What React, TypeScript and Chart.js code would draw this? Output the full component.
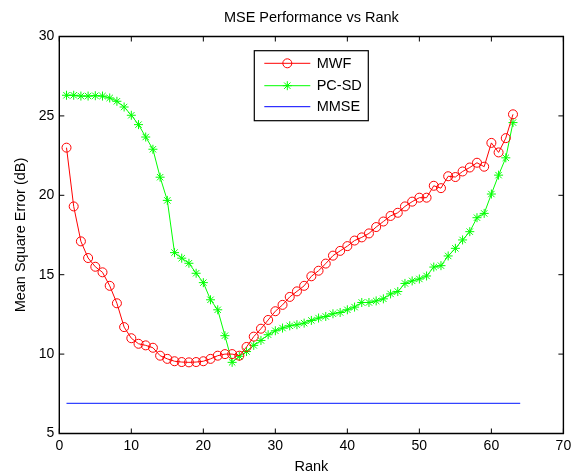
import { useEffect, useRef } from "react";
import { Chart, registerables } from "chart.js";
Chart.register(...registerables);

const FONT = "'Liberation Sans', Arial, Helvetica, sans-serif";

const title = "MSE Performance vs Rank";
const xTitle = "Rank";
const yTitle = "Mean Square Error (dB)";

const ranks = [
  1, 2, 3, 4, 5, 6, 7, 8, 9, 10, 11, 12, 13, 14, 15, 16, 17, 18, 19, 20, 21,
  22, 23, 24, 25, 26, 27, 28, 29, 30, 31, 32, 33, 34, 35, 36, 37, 38, 39, 40,
  41, 42, 43, 44, 45, 46, 47, 48, 49, 50, 51, 52, 53, 54, 55, 56, 57, 58, 59,
  60, 61, 62, 63,
];

const mwf = [
  23.0, 19.3, 17.1, 16.05, 15.5, 15.15, 14.3, 13.2, 11.7, 11.0, 10.65, 10.55,
  10.4, 9.9, 9.7, 9.55, 9.5, 9.48, 9.5, 9.55, 9.7, 9.9, 10.0, 10.0, 9.9, 10.45,
  11.1, 11.6, 12.15, 12.7, 13.1, 13.6, 13.95, 14.3, 14.9, 15.25, 15.7, 16.2,
  16.5, 16.8, 17.15, 17.35, 17.6, 18.0, 18.35, 18.7, 18.9, 19.3, 19.6, 19.85,
  19.85, 20.6, 20.45, 21.2, 21.15, 21.5, 21.75, 22.05, 21.8, 23.3, 22.7, 23.6,
  25.1,
];

const pcsd = [
  26.3, 26.3, 26.25, 26.25, 26.27, 26.25, 26.13, 25.92, 25.56, 25.04, 24.45,
  23.67, 22.9, 21.14, 19.68, 16.39, 16.04, 15.72, 15.09, 14.5, 13.42, 12.79,
  11.16, 9.48, 9.86, 10.16, 10.55, 10.86, 11.22, 11.47, 11.64, 11.78, 11.85,
  11.95, 12.12, 12.27, 12.37, 12.54, 12.62, 12.79, 12.96, 13.25, 13.25, 13.35,
  13.48, 13.79, 13.94, 14.45, 14.61, 14.73, 14.92, 15.48, 15.57, 16.18, 16.66,
  17.19, 17.71, 18.59, 18.86, 20.08, 21.27, 22.36, 24.58,
];

const mmseRanks = [1, 64];
const mmse = [6.9, 6.9];

const seriesNames = ["MWF", "PC-SD", "MMSE"];
const seriesColors = ["#ff0000", "#00ff00", "#0000ff"];

const xTicks = [0, 10, 20, 30, 40, 50, 60, 70];
const yTicks = [5, 10, 15, 20, 25, 30];

const framePlugin = {
  id: "frame",
  afterDatasetsDraw(chart: any) {
    const { ctx, chartArea } = chart;
    const { left, top, right, bottom } = chartArea;
    ctx.save();
    ctx.strokeStyle = "#000";
    ctx.lineWidth = 1.4;
    ctx.beginPath();
    ctx.rect(left, top, right - left, bottom - top);
    ctx.stroke();
    ctx.lineWidth = 1;
    ctx.beginPath();
    const tl = 5;
    xTicks.forEach((v) => {
      const px = chart.scales.x.getPixelForValue(v);
      ctx.moveTo(px, bottom);
      ctx.lineTo(px, bottom - tl);
      ctx.moveTo(px, top);
      ctx.lineTo(px, top + tl);
    });
    yTicks.forEach((v) => {
      const py = chart.scales.y.getPixelForValue(v);
      ctx.moveTo(left, py);
      ctx.lineTo(left + tl, py);
      ctx.moveTo(right, py);
      ctx.lineTo(right - tl, py);
    });
    ctx.stroke();
    ctx.restore();
  },
};

const legendPlugin = {
  id: "insideLegend",
  afterDraw(chart: any) {
    const { ctx, chartArea } = chart;
    const bx = chartArea.left + 195;
    const by = chartArea.top + 14.2;
    const bw = 114;
    const bh = 70;
    ctx.save();
    ctx.fillStyle = "#fff";
    ctx.fillRect(bx, by, bw, bh);
    ctx.strokeStyle = "#000";
    ctx.lineWidth = 1.2;
    ctx.strokeRect(bx, by, bw, bh);
    const rows = [12.6, 35, 56];
    ctx.font = `14.5px ${FONT}`;
    ctx.textBaseline = "middle";
    ctx.textAlign = "left";
    seriesNames.forEach((name, i) => {
      const y = by + rows[i];
      ctx.strokeStyle = seriesColors[i];
      ctx.lineWidth = 1;
      ctx.beginPath();
      ctx.moveTo(bx + 10, y);
      ctx.lineTo(bx + 56, y);
      ctx.stroke();
      const mx = bx + 33;
      if (i === 0) {
        ctx.beginPath();
        ctx.arc(mx, y, 4.5, 0, Math.PI * 2);
        ctx.stroke();
      } else if (i === 1) {
        const r = 4.5;
        const d = r * Math.SQRT1_2;
        ctx.beginPath();
        ctx.moveTo(mx - r, y);
        ctx.lineTo(mx + r, y);
        ctx.moveTo(mx, y - r);
        ctx.lineTo(mx, y + r);
        ctx.moveTo(mx - d, y - d);
        ctx.lineTo(mx + d, y + d);
        ctx.moveTo(mx - d, y + d);
        ctx.lineTo(mx + d, y - d);
        ctx.stroke();
      }
      ctx.fillStyle = "#000";
      ctx.fillText(name, bx + 62.4, y + 0.5);
    });
    ctx.restore();
  },
};

export default function App() {
  const ref = useRef<HTMLCanvasElement>(null);
  useEffect(() => {
    const chart = new Chart(ref.current as HTMLCanvasElement, {
      type: "line",
      data: {
        datasets: [
          {
            label: seriesNames[0],
            data: ranks.map((r, i) => ({ x: r, y: mwf[i] })),
            borderColor: seriesColors[0],
            borderWidth: 1,
            pointStyle: "circle",
            pointRadius: 4.5,
            pointBorderWidth: 1,
            pointBorderColor: seriesColors[0],
            pointBackgroundColor: "rgba(0,0,0,0)",
            backgroundColor: "rgba(0,0,0,0)",
            tension: 0,
          },
          {
            label: seriesNames[1],
            data: ranks.map((r, i) => ({ x: r, y: pcsd[i] })),
            borderColor: seriesColors[1],
            borderWidth: 1,
            pointStyle: "star",
            pointRadius: 4.5,
            pointBorderWidth: 1,
            pointBorderColor: seriesColors[1],
            pointBackgroundColor: seriesColors[1],
            backgroundColor: "rgba(0,0,0,0)",
            tension: 0,
          },
          {
            label: seriesNames[2],
            data: mmseRanks.map((r, i) => ({ x: r, y: mmse[i] })),
            borderColor: "#3344ff",
            borderWidth: 1.4,
            pointRadius: 0,
            backgroundColor: "rgba(0,0,0,0)",
            tension: 0,
          },
        ],
      },
      options: {
        responsive: false,
        animation: false,
        devicePixelRatio: 1,
        layout: { padding: { left: 0, right: 7.6, top: 0, bottom: 0 } },
        plugins: {
          legend: { display: false },
          tooltip: { enabled: false },
          title: {
            display: true,
            text: title,
            fullSize: false,
            color: "#000",
            font: { family: FONT, size: 14.5, weight: "normal" },
            padding: { top: 9.3, bottom: 9.8 },
          },
        },
        scales: {
          x: {
            type: "linear",
            min: 0,
            max: 70,
            afterBuildTicks: (s: any) => {
              s.ticks = xTicks.map((v) => ({ value: v }));
            },
            ticks: {
              color: "#000",
              font: { family: FONT, size: 14 },
              padding: 4,
              maxRotation: 0,
              autoSkip: false,
            },
            grid: { display: false, drawTicks: false },
            border: { display: false },
            title: {
              display: true,
              text: xTitle,
              color: "#000",
              font: { family: FONT, size: 14.5 },
              padding: { top: 0, bottom: 0 },
            },
            afterFit: (s: any) => {
              s.height = 42.5;
              s.paddingLeft = 0;
              s.paddingRight = 0;
            },
          },
          y: {
            type: "linear",
            min: 5,
            max: 30,
            afterBuildTicks: (s: any) => {
              s.ticks = yTicks.map((v) => ({ value: v }));
            },
            ticks: {
              color: "#000",
              font: { family: FONT, size: 14 },
              padding: 5,
            },
            grid: { display: false, drawTicks: false },
            border: { display: false },
            title: {
              display: true,
              text: yTitle,
              color: "#000",
              font: { family: FONT, size: 14.5 },
              padding: { top: 11.8, bottom: 0 },
            },
            afterFit: (s: any) => {
              s.width = 59.3;
              s.paddingTop = 0;
              s.paddingBottom = 0;
            },
          },
        },
      } as any,
      plugins: [framePlugin, legendPlugin],
    });
    return () => chart.destroy();
  }, []);
  return (
    <div
      style={{
        position: "fixed",
        left: 0,
        top: 0,
        width: 571,
        height: 476,
        background: "#fff",
      }}
    >
      <canvas ref={ref} width={571} height={476} style={{ width: 571, height: 476 }} />
    </div>
  );
}
